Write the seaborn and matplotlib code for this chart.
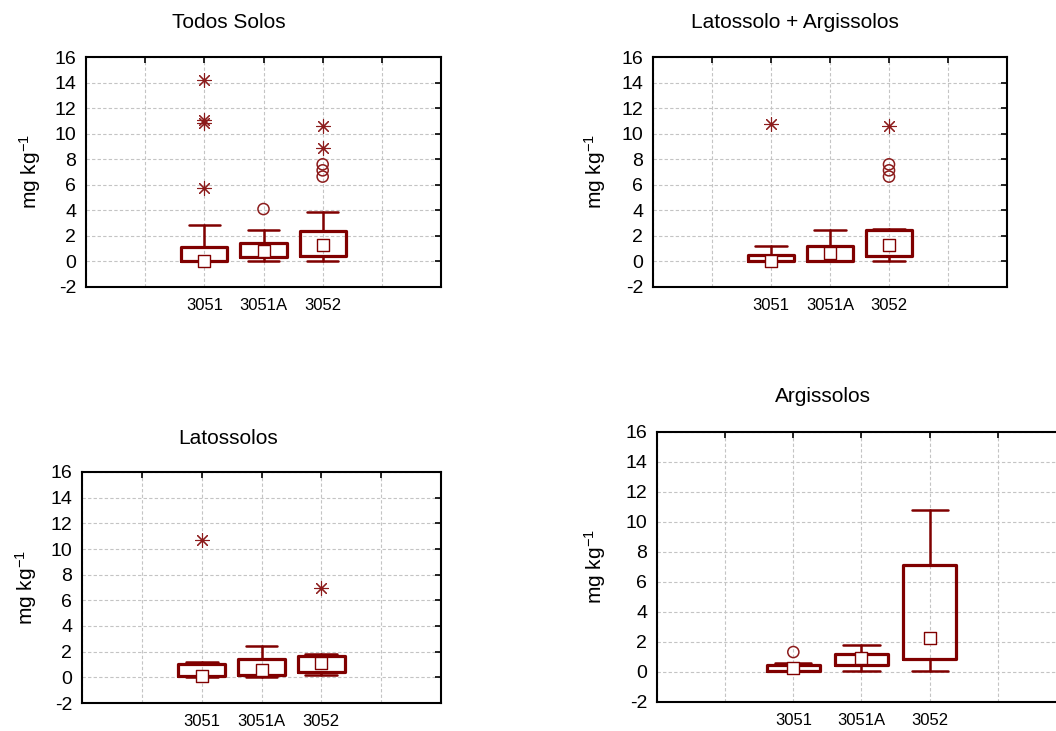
import matplotlib
matplotlib.use("Agg")
import matplotlib.pyplot as plt
import seaborn as sns
import pandas as pd

sns.set_style("white")
plt.rcParams['font.family'] = ['Liberation Sans', 'DejaVu Sans']
plt.rcParams['mathtext.default'] = 'regular'
plt.rcParams['axes.unicode_minus'] = False
plt.rcParams['text.color'] = 'black'

categories = ['3051', '3051A', '3052']

# Todos Solos
todos_whislo = [0.00, 0.00, 0.06]
todos_q1 = [0.02, 0.38, 0.43]
todos_med = [0.03, 0.80, 1.31]
todos_q3 = [1.16, 1.47, 2.36]
todos_whishi = [2.88, 2.44, 3.85]
todos_outliers = [[], [4.10], [7.60, 7.13, 6.64]]
todos_extremes = [[14.20, 11.06, 10.80, 5.78], [], [10.60, 8.86]]

# Latossolo + Argissolos
latarg_whislo = [0.00, 0.00, 0.04]
latarg_q1 = [0.04, 0.06, 0.45]
latarg_med = [0.04, 0.66, 1.27]
latarg_q3 = [0.47, 1.21, 2.44]
latarg_whishi = [1.21, 2.44, 2.52]
latarg_outliers = [[], [], [7.60, 7.13, 6.64]]
latarg_extremes = [[10.76], [], [10.63]]

# Latossolos
lat_whislo = [0.00, 0.03, 0.16]
lat_q1 = [0.08, 0.16, 0.44]
lat_med = [0.10, 0.55, 1.14]
lat_q3 = [1.07, 1.46, 1.69]
lat_whishi = [1.22, 2.44, 1.82]
lat_outliers = [[], [], []]
lat_extremes = [[10.72], [], [6.98]]

# Argissolos
arg_whislo = [0.05, 0.07, 0.10]
arg_q1 = [0.10, 0.44, 0.84]
arg_med = [0.27, 0.93, 2.26]
arg_q3 = [0.50, 1.21, 7.12]
arg_whishi = [0.60, 1.81, 10.78]
arg_outliers = [[1.33], [], []]
arg_extremes = [[], [], []]

panels = [
    ("Todos Solos", todos_whislo, todos_q1, todos_med, todos_q3, todos_whishi, todos_outliers, todos_extremes),
    ("Latossolo + Argissolos", latarg_whislo, latarg_q1, latarg_med, latarg_q3, latarg_whishi, latarg_outliers, latarg_extremes),
    ("Latossolos", lat_whislo, lat_q1, lat_med, lat_q3, lat_whishi, lat_outliers, lat_extremes),
    ("Argissolos", arg_whislo, arg_q1, arg_med, arg_q3, arg_whishi, arg_outliers, arg_extremes),
]

W, H = 1056, 731
# axes rectangles in pixels: left, top, right, bottom
rects = [
    (86, 57, 441, 287),
    (653, 57, 1007, 287),
    (82, 472, 441, 703),
    (657, 432, 1066, 702),
]
title_pos = [(229, 22), (795, 22), (228, 438), (823, 397)]
ylabel_pos = [(30, 172), (595, 172), (26, 588), (595, 567)]

DARK = '#800000'
PT = '#8c1c1c'

fig = plt.figure(figsize=(W / 100, H / 100), dpi=100)

for (title, wlo, q1, med, q3, whi, outl, extr), (l, t, r, b), (tx, ty), (yx, yy) in zip(
        panels, rects, title_pos, ylabel_pos):
    ax = fig.add_axes([l / W, 1 - b / H, (r - l) / W, (b - t) / H])

    stats = [dict(whislo=wlo[i], q1=q1[i], med=med[i], q3=q3[i], whishi=whi[i],
                  fliers=[], label=categories[i]) for i in range(len(categories))]
    ax.bxp(stats, positions=range(len(categories)), widths=0.78, capwidths=0.53,
           showfliers=False, patch_artist=False,
           boxprops=dict(color=DARK, linewidth=2.3),
           whiskerprops=dict(color=DARK, linewidth=1.8),
           capprops=dict(color=DARK, linewidth=1.8),
           medianprops=dict(linewidth=0), zorder=3)

    # median markers
    med_df = pd.DataFrame({'cat': categories, 'value': med})
    sns.stripplot(data=med_df, x='cat', y='value', order=categories, jitter=False,
                  marker='s', s=8, color='white', edgecolor=DARK, linewidth=1.0,
                  ax=ax, zorder=4)

    # outliers (open circles)
    out_df = pd.DataFrame([(categories[i], v) for i in range(len(categories)) for v in outl[i]],
                          columns=['cat', 'value'])
    if len(out_df):
        sns.stripplot(data=out_df, x='cat', y='value', order=categories, jitter=False,
                      marker='o', s=8, color='none', edgecolor=PT, linewidth=1.1,
                      ax=ax, zorder=4)

    # extremes (asterisks)
    ext_df = pd.DataFrame([(categories[i], v) for i in range(len(categories)) for v in extr[i]],
                          columns=['cat', 'value'])
    if len(ext_df):
        sns.stripplot(data=ext_df, x='cat', y='value', order=categories, jitter=False,
                      marker=(8, 2, 0), s=10, color=PT, linewidth=0.8,
                      ax=ax, zorder=4)

    ax.set_xlim(-2, 4)
    ax.set_ylim(-2, 16)
    ax.set_xticks(range(-2, 5))
    ax.set_xticklabels(['', ''] + categories + ['', ''],
                       family=['Liberation Sans Narrow', 'Liberation Sans'], fontsize=12)
    ax.set_yticks(range(-2, 17, 2))
    ax.tick_params(axis='y', labelsize=14, pad=7)
    ax.tick_params(axis='x', pad=8)
    ax.tick_params(direction='in', length=4, width=1.2, top=True, right=True,
                   color='black', labelcolor='black')
    ax.grid(True, color='#c4c4c4', linestyle=(0, (3, 2)), linewidth=0.8)
    ax.set_axisbelow(True)
    for sp in ax.spines.values():
        sp.set_visible(True)
        sp.set_color('black')
        sp.set_linewidth(1.5)
    ax.set_xlabel('')
    ax.set_ylabel('')

    fig.text(tx / W, 1 - ty / H, title, ha='center', va='center', fontsize=15)
    fig.text(yx / W, 1 - yy / H, 'mg kg$^{-1}$', rotation=90,
             ha='center', va='center', fontsize=15)

fig.savefig('out.png', dpi=100)
